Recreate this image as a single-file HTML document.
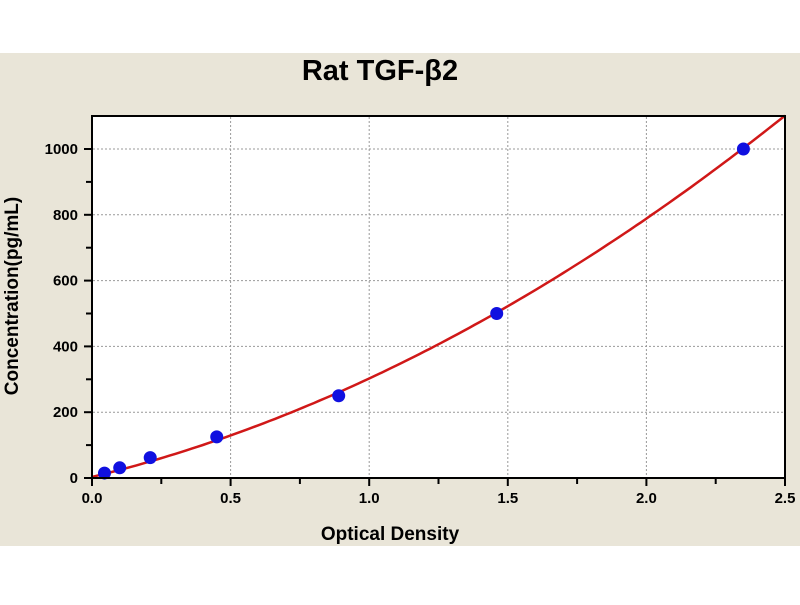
<!DOCTYPE html>
<html><head><meta charset="utf-8"><style>
body{margin:0;width:800px;height:600px;background:#fff;overflow:hidden}
</style></head><body>
<svg id="s" width="800" height="600" xmlns="http://www.w3.org/2000/svg" font-family="Liberation Sans, Arial, sans-serif" font-weight="bold">
<rect x="0" y="53" width="800" height="493" fill="#e9e5d8"/>
<rect x="92" y="116" width="693" height="362" fill="#fff"/>
<text x="380" y="80" font-size="29" text-anchor="middle">Rat TGF-β2</text>
<text x="390" y="540" font-size="19" text-anchor="middle">Optical Density</text>
<text transform="translate(18,296) rotate(-90)" font-size="19" text-anchor="middle">Concentration(pg/mL)</text>
<g id="g"></g>
<rect x="92" y="116" width="693" height="362" fill="none" stroke="#000" stroke-width="2"/>
</svg>
<script>
var g=document.getElementById('g'),h='';
function X(v){return 92+277.2*v}function Y(c){return 478-0.329*c}
for(var i=1;i<=4;i++){var x=X(i*0.5);h+='<line x1="'+x+'" y1="117" x2="'+x+'" y2="477" stroke="#999" stroke-dasharray="2,2" stroke-width="1"/>';}
for(var c=200;c<=1000;c+=200){var y=Y(c);h+='<line x1="93" y1="'+y+'" x2="784" y2="'+y+'" stroke="#999" stroke-dasharray="2,2" stroke-width="1"/>';}
for(var i=0;i<=10;i++){var x=X(i*0.25),L=i%2?6:8;h+='<line x1="'+x+'" y1="478" x2="'+x+'" y2="'+(478+L)+'" stroke="#000" stroke-width="2"/>';
if(i%2==0)h+='<text x="'+x+'" y="503" font-size="15" text-anchor="middle">'+(i*0.25).toFixed(1)+'</text>';}
for(var c=0;c<=1000;c+=100){var y=Y(c),L=c%200?6:8;h+='<line x1="'+(92-L)+'" y1="'+y+'" x2="92" y2="'+y+'" stroke="#000" stroke-width="2"/>';
if(c%200==0)h+='<text x="78" y="'+(y+5)+'" font-size="15" text-anchor="end">'+c+'</text>';}
var p='';for(var i=0;i<=125;i++){var v=i*0.02;p+=X(v).toFixed(1)+','+Y(3+206.2*v+93.3*v*v).toFixed(1)+' ';}
h+='<polyline points="'+p+'" fill="none" stroke="#d01818" stroke-width="2.5"/>';
var pts=[[0.045,15],[0.1,31],[0.21,62],[0.45,125],[0.89,250],[1.46,500],[2.35,1000]];
pts.forEach(function(q){h+='<circle cx="'+X(q[0])+'" cy="'+Y(q[1])+'" r="6.5" fill="#1010e0"/>';});
g.innerHTML=h;
</script>
</body></html>
